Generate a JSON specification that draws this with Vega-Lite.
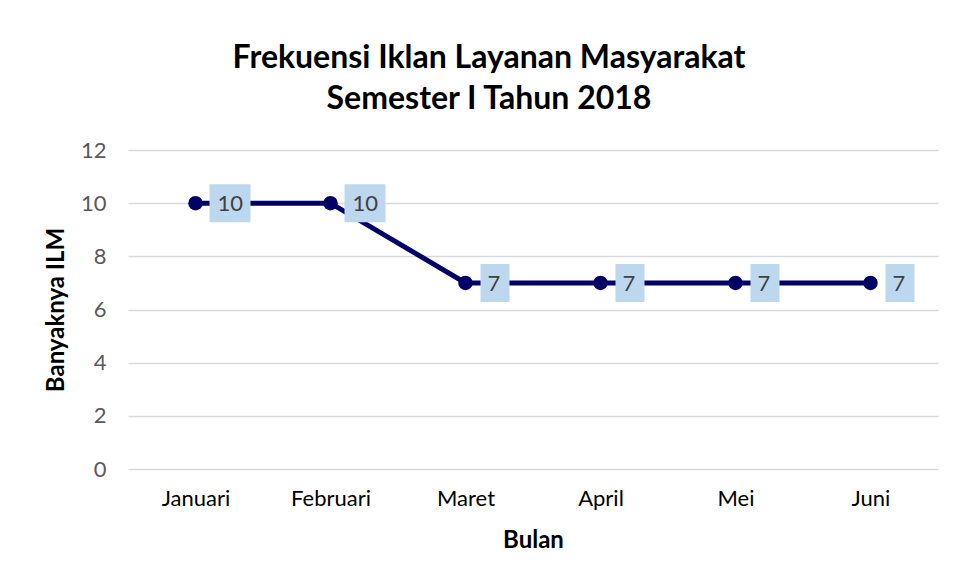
{
  "$schema": "https://vega.github.io/schema/vega-lite/v6.json",
  "autosize": "none",
  "width": 810,
  "height": 319,
  "padding": {"left": 128, "top": 150, "right": 19, "bottom": 111},
  "background": "white",
  "config": {
    "view": {"stroke": null},
    "font": "Lato"
  },
  "title": {
    "text": ["Frekuensi Iklan Layanan Masyarakat", "Semester I Tahun 2018"],
    "font": "Lato",
    "fontSize": 32,
    "fontWeight": "bold",
    "color": "#000000",
    "lineHeight": 41,
    "anchor": "middle",
    "dx": -44,
    "offset": 23
  },
  "data": {
    "values": [
      {"bulan": "Januari", "ilm": 10},
      {"bulan": "Februari", "ilm": 10},
      {"bulan": "Maret", "ilm": 7},
      {"bulan": "April", "ilm": 7},
      {"bulan": "Mei", "ilm": 7},
      {"bulan": "Juni", "ilm": 7}
    ]
  },
  "encoding": {
    "x": {
      "field": "bulan",
      "type": "ordinal",
      "sort": null,
      "scale": {"type": "point", "padding": 0.5},
      "axis": {
        "title": "Bulan",
        "labelAngle": 0,
        "labelFont": "Lato",
        "labelFontSize": 22,
        "labelColor": "#000000",
        "labelPadding": 19,
        "titleFont": "Lato",
        "titleFontSize": 24,
        "titleFontWeight": "bold",
        "titleColor": "#000000",
        "titlePadding": 19,
        "ticks": false,
        "domain": false,
        "grid": false
      }
    },
    "y": {
      "field": "ilm",
      "type": "quantitative",
      "scale": {"domain": [0, 12]},
      "axis": {
        "title": "Banyaknya ILM",
        "values": [0, 2, 4, 6, 8, 10, 12],
        "labelFont": "Lato",
        "labelFontSize": 22,
        "labelColor": "#595959",
        "labelPadding": 22,
        "titleFont": "Lato",
        "titleFontSize": 24,
        "titleFontWeight": "bold",
        "titleColor": "#000000",
        "titlePadding": 12,
        "ticks": false,
        "domain": false,
        "grid": true,
        "gridColor": "#D9D9D9",
        "gridWidth": 1.5
      }
    }
  },
  "layer": [
    {"mark": {"type": "line", "color": "#000066", "strokeWidth": 5}},
    {"mark": {"type": "point", "filled": true, "color": "#000066", "size": 210, "opacity": 1}},
    {
      "transform": [{"filter": "datum.ilm >= 10"}],
      "mark": {"type": "rect", "color": "#BDD7EE", "width": 41, "height": 38, "xOffset": 34.5}
    },
    {
      "transform": [{"filter": "datum.ilm < 10"}],
      "mark": {"type": "rect", "color": "#BDD7EE", "width": 29, "height": 38, "xOffset": 29.5}
    },
    {
      "mark": {"type": "text", "align": "left", "baseline": "middle", "dx": 22, "dy": 1, "fontSize": 22, "font": "Lato", "color": "#404040"},
      "encoding": {"text": {"field": "ilm", "type": "quantitative"}}
    }
  ]
}
